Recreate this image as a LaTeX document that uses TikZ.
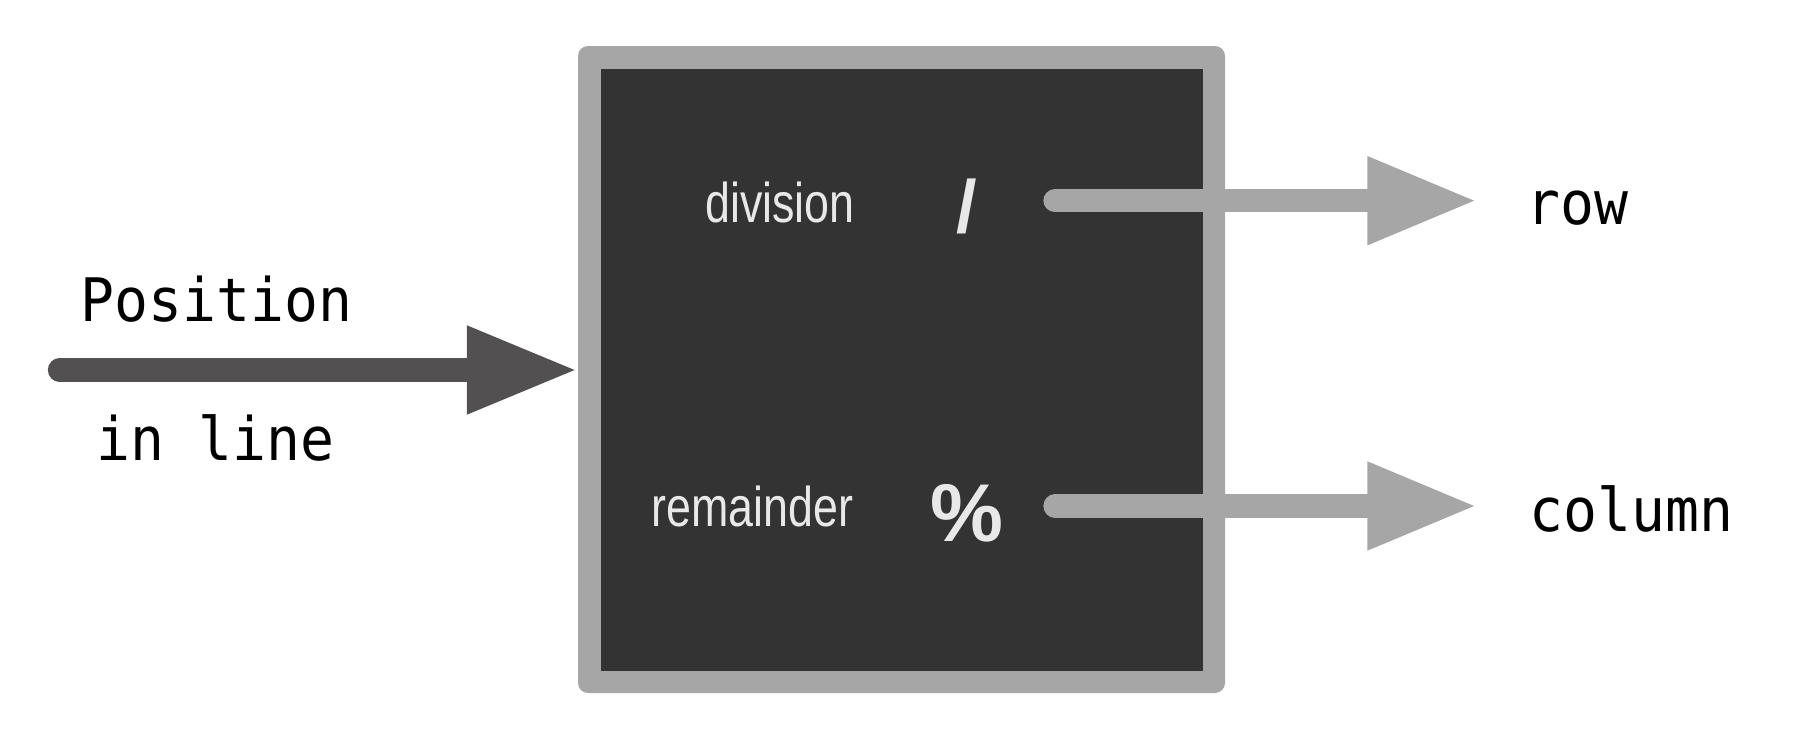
\documentclass[tikz,border=0pt]{standalone}
\usepackage{fontspec}
\usetikzlibrary{arrows.meta}
\newfontfamily\monoB[FakeStretch=0.94]{DejaVu Sans Mono}
\newfontfamily\sansN[FakeStretch=0.8]{Liberation Sans}
\newfontfamily\sansW{Liberation Sans}
\definecolor{boxdark}{HTML}{333333}
\definecolor{boxgray}{HTML}{A6A6A6}
\definecolor{ingray}{HTML}{525051}
\definecolor{lighttxt}{HTML}{E8E8E8}
\tikzset{
  txt/.style={inner sep=0pt, outer sep=0pt, anchor=base},
  monotxt/.style={txt, text=black, font=\monoB\fontsize{60}{64}\selectfont},
  optxt/.style={txt, text=lighttxt, font=\sansN\fontsize{56}{60}\selectfont},
  opsym/.style={inner sep=0pt, outer sep=0pt, text=lighttxt, font=\sansW\bfseries\fontsize{74}{78}\selectfont},
  pctsym/.style={opsym, font=\sansW\bfseries\fontsize{82}{86}\selectfont},
  outarrow/.style={draw=boxgray, line width=23.3pt, line cap=round, -{Triangle[length=110pt,width=82pt]}},
  inarrow/.style={draw=ingray, line width=23.3pt, line cap=round, -{Triangle[length=111pt,width=82pt]}}
}
\begin{document}
\begin{tikzpicture}[x=1pt, y=-1pt]
\useasboundingbox (0,0) rectangle (1803,740);
% box
\node (box) [fill=boxgray, rounded corners=10pt, minimum width=647pt, minimum height=647pt, inner sep=0pt] at (901.5,369.5) {};
\node (inner) [fill=boxdark, minimum width=602pt, minimum height=602pt, inner sep=0pt] at (box.center) {};
% labels inside
\node (div) [optxt] at (780,222.7) {division};
\node (rem) [optxt] at (752.4,526.7) {remainder};
\node (slash) [opsym] at (967,206.5) {/};
\node (pct) [pctsym] at (967,513.3) {\%};
% input
\coordinate (in) at (59.5,370);
\draw[inarrow] (in) -- (in -| box.west);
\node (pos) [monotxt] at (216.7,321.7) {Position};
\node (inl) [monotxt] at (215.2,460.7) {in line};
% outputs
\coordinate (divout) at (1055,200.7);
\coordinate (rowtip) at (1477.3,200.7);
\coordinate (remout) at (1055,506);
\coordinate (coltip) at (1477.3,506);
\draw[outarrow] (divout) -- (rowtip);
\draw[outarrow] (remout) -- (coltip);
\node (row) [monotxt] at (1577.5,224.3) {row};
\node (col) [monotxt] at (1631.7,531) {column};
\end{tikzpicture}
\end{document}
